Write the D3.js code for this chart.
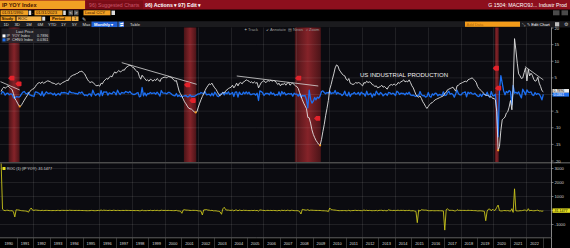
<!DOCTYPE html>
<html>
<head>
<meta charset="utf-8">
<script src="https://cdn.jsdelivr.net/npm/d3@7"></script>
<style>
  html, body { margin: 0; padding: 0; background: #000; overflow: hidden; }
  svg { display: block; font-family: "Liberation Sans", Arial, sans-serif; }
</style>
</head>
<body>
<script>
// monthly series, Jan 1990 .. Jan 2023
const ipYoy = [
  0.9, 1.8, 2.2, 1.9, 2.2, 2.6, 2.2, 1.8, 1.5, 0.3, -1.2, -1.8,
  -2.6, -3.4, -3.6, -3.1, -2.4, -1.7, -1.0, -0.4, 0.3, 0.9, 1.3, 1.6,
  1.8, 2.4, 3.0, 3.4, 3.6, 3.3, 3.8, 3.4, 3.6, 3.9, 4.1, 4.0,
  3.8, 3.5, 3.4, 3.3, 3.0, 3.2, 3.4, 3.0, 3.3, 3.6, 3.8, 4.0,
  4.3, 4.2, 5.0, 5.4, 5.7, 5.9, 6.0, 6.3, 6.4, 6.8, 6.9, 7.0,
  6.6, 6.2, 5.4, 4.6, 4.0, 3.6, 3.8, 3.7, 3.2, 2.8, 2.6, 2.8,
  2.5, 3.4, 3.2, 4.0, 4.4, 4.8, 4.6, 5.2, 5.5, 5.3, 6.2, 6.8,
  6.4, 6.9, 7.2, 6.8, 7.0, 7.4, 7.3, 8.0, 8.3, 8.6, 8.8, 8.6,
  8.2, 8.0, 7.4, 7.0, 6.8, 5.4, 4.6, 5.8, 5.2, 4.8, 4.2, 4.4,
  4.0, 4.6, 4.4, 4.0, 4.5, 4.2, 4.8, 4.4, 3.9, 4.8, 5.0, 5.2,
  5.2, 5.0, 5.4, 5.3, 5.2, 4.9, 4.4, 4.0, 4.2, 2.6, 1.0, 0.2,
  -0.5, -1.4, -2.2, -2.8, -3.5, -4.1, -4.3, -4.4, -4.8, -5.2, -5.4, -5.2,
  -3.8, -2.6, -1.6, -0.6, 0.2, 1.2, 2.0, 2.6, 3.2, 3.0, 3.4, 2.6,
  2.0, 1.5, 0.8, 0.0, -0.4, 0.2, 0.6, 0.4, 1.1, 1.4, 1.8, 2.0,
  2.2, 2.8, 2.0, 2.6, 3.4, 2.6, 3.4, 3.6, 3.2, 3.8, 4.0, 4.4,
  4.2, 4.0, 3.6, 3.8, 3.4, 3.8, 3.4, 3.6, 2.0, 2.8, 3.6, 3.9,
  4.2, 3.6, 3.8, 4.2, 4.0, 4.3, 4.0, 4.2, 4.1, 3.6, 3.0, 3.4,
  2.6, 3.2, 3.0, 3.4, 2.8, 3.4, 3.6, 2.8, 3.2, 3.4, 3.0, 2.6,
  2.4, 1.8, 0.6, -0.4, -1.6, -2.6, -3.4, -4.2, -6.9, -7.0, -8.6, -10.6,
  -12.0, -13.0, -13.8, -14.4, -15.0, -15.3, -13.6, -11.2, -9.0, -6.4, -4.2, -1.8,
  1.6, 3.0, 4.6, 6.2, 8.0, 8.9, 8.6, 7.4, 6.8, 6.2, 5.8, 5.6,
  4.6, 4.2, 4.8, 3.4, 3.2, 3.0, 3.2, 3.6, 3.4, 3.6, 3.4, 3.0,
  2.6, 3.6, 3.4, 4.0, 3.6, 3.8, 3.6, 3.0, 2.8, 2.4, 2.6, 2.0,
  2.2, 2.4, 2.8, 2.2, 2.4, 2.0, 1.6, 2.4, 2.8, 3.0, 2.8, 3.2,
  2.8, 3.0, 3.6, 3.4, 3.8, 4.0, 4.4, 3.8, 4.0, 3.8, 4.4, 3.6,
  2.6, 2.0, 1.0, 0.0, -0.6, -0.8, -0.4, -1.2, -2.2, -2.8, -3.6, -4.2,
  -3.6, -3.0, -2.6, -2.4, -2.0, -1.6, -1.4, -1.2, -1.0, -0.8, -0.6, -0.4,
  0.4, 0.6, 1.4, 1.6, 1.8, 2.0, 2.2, 1.6, 1.0, 2.6, 2.8, 3.2,
  3.4, 3.6, 3.8, 4.0, 3.8, 4.4, 4.6, 4.8, 5.0, 4.6, 4.2, 3.6,
  2.4, 1.8, 1.4, 1.0, 0.6, 0.2, -0.3, -0.2, -0.4, -0.8, -0.6, -1.2,
  -1.2, -1.6, -5.2, -16.8, -15.6, -10.8, -7.6, -7.2, -6.8, -5.6, -5.2, -3.8,
  -1.8, -4.6, 1.6, 16.8, 13.4, 9.4, 6.2, 5.6, 4.8, 5.0, 6.6, 8.0,
  4.1, 7.6, 5.6, 6.4, 5.8, 4.6, 4.0, 4.2, 5.2, 3.4, 2.4, 1.15,
  0.79
];

const ipChng = [
  0.1, 0.9, 0.6, -0.2, 0.3, 0.4, -0.1, 0.2, 0.1, -0.9, -1.2, -0.6,
  -0.7, -0.8, -0.5, 0.2, 0.7, 0.9, 0.3, 0.2, 0.6, -0.1, -0.3, -0.4,
  -0.6, 0.8, 0.7, 0.5, 0.3, -0.3, 0.9, -0.5, 0.2, 0.8, 0.4, 0.3,
  0.5, 0.3, -0.1, 0.4, -0.3, 0.1, 0.3, -0.2, 0.6, 0.5, 0.6, 0.5,
  0.4, 0.1, 1.0, 0.6, 0.5, 0.5, 0.3, 0.3, 0.1, 0.7, 0.4, 0.8,
  0.2, -0.3, -0.1, -0.4, 0.1, 0.2, -0.5, 1.3, 0.3, -0.3, 0.1, 0.3,
  -0.5, 1.2, -0.3, 0.8, 0.7, 0.8, -0.2, 0.5, 0.3, 0.2, 0.8, 0.6,
  -0.1, 1.3, 0.5, 0.0, 0.6, 0.5, 0.4, 0.9, 0.7, 0.5, 0.9, 0.4,
  0.1, 0.0, 0.1, 0.4, 0.6, -0.7, -0.5, 2.1, -0.4, 0.5, -0.4, 0.3,
  0.2, 0.6, 0.3, 0.4, 0.5, 0.1, 0.7, 0.2, -0.5, 1.2, 0.5, 0.4,
  0.4, 0.2, 0.6, 0.6, 0.3, -0.1, -0.3, -0.4, 0.3, -0.6, -0.2, -0.6,
  -0.6, -0.5, -0.4, -0.3, -0.7, -0.6, -0.1, -0.6, -0.5, -0.6, -0.3, -0.1,
  0.2, 0.2, 0.6, 0.4, 0.3, 0.8, -0.1, 0.0, 0.1, -0.4, 0.4, -0.4,
  0.7, 0.2, -0.5, -0.6, 0.1, 0.1, 0.6, -0.1, 0.6, 0.2, 0.8, 0.0,
  0.3, 0.6, -0.6, 0.7, 0.8, -0.8, 0.7, 0.1, 0.0, 0.7, 0.2, 0.8,
  0.2, 0.7, 0.0, 0.0, 0.2, 0.2, -0.2, 0.4, -1.8, 1.1, 0.9, 0.5,
  -0.3, 0.3, 0.3, 0.3, -0.1, 0.7, 0.1, 0.4, -0.3, 0.0, -0.2, 0.8,
  -0.4, 0.9, 0.2, 0.6, -0.1, 0.1, 0.3, 0.1, 0.3, -0.5, 0.4, 0.1,
  0.1, -0.5, 0.2, -0.8, -0.3, -0.4, -0.3, -1.5, -4.0, 1.3, -1.4, -2.6,
  -2.0, -0.9, -1.6, -0.8, -1.1, -0.4, 0.9, 1.1, 0.6, 0.2, 0.6, 0.4,
  1.0, 0.2, 0.5, 0.4, 1.2, 0.1, 0.6, 0.2, 0.2, -0.3, 0.1, 1.0,
  -0.2, -0.4, 0.7, -0.6, 0.2, 0.2, 0.6, 0.1, 0.2, 0.6, -0.2, 0.7,
  0.3, 0.2, -0.5, 1.0, -0.1, 0.1, 0.4, -0.8, 0.2, -0.3, 1.0, 0.3,
  -0.1, 0.6, 0.3, -0.4, 0.0, 0.3, -0.3, 0.6, 0.5, 0.1, 0.4, 0.2,
  -0.3, 1.0, 0.7, 0.0, 0.4, 0.3, 0.3, -0.1, 0.5, 0.1, 0.7, -0.1,
  -0.3, -0.2, -0.4, -0.6, -0.3, -0.3, 0.9, -0.1, -0.4, -0.3, -0.8, -0.6,
  0.6, -0.5, -0.8, 0.2, -0.2, 0.4, 0.3, -0.4, 0.0, -0.1, -0.3, 0.8,
  -0.3, -0.2, 0.4, 1.0, 0.1, 0.3, 0.0, -0.8, 0.2, 1.3, 0.2, -0.1,
  -0.1, 0.5, 0.6, 0.8, -0.7, 0.7, 0.3, 0.6, 0.2, 0.1, 0.4, -0.1,
  -0.5, -0.6, 0.1, -0.6, 0.2, 0.0, -0.2, 0.7, -0.4, -0.8, 0.9, -0.3,
  -0.4, 0.1, -4.5, -12.7, 1.4, 5.7, 3.5, 1.1, -0.1, 0.9, 0.5, 1.2,
  0.8, -3.1, 2.7, 0.4, 0.7, 0.3, 0.8, -0.2, -1.0, 1.6, 0.8, -0.1,
  1.4, 0.7, 0.6, 0.8, -0.1, -0.3, 0.6, 0.0, 0.3, 0.1, -0.6, -1.6,
  0.0361
];

const rocYoy = [
  3400, 95, 20, -15, 15, 18, -15, -18, -17, -80, -460, 50,
  44, 30, 6, -14, -22, -30, -40, -60, -120, 60, 180, 25,
  12, 33, 25, 13, 6, -8, 15, -10, 6, 8, 5, -2,
  -5, -8, -3, -3, -9, 7, 6, -12, 10, 9, 6, 5,
  8, -2, 19, 8, 6, 4, 2, 5, 2, 6, 1, 1,
  -6, -6, -13, -15, -13, -10, 6, -3, -14, -13, -7, 8,
  -11, 36, -6, 25, 10, 9, -4, 13, 6, -4, 17, 10,
  -6, 8, 4, -6, 3, 6, -1, 10, 4, 4, 2, -2,
  -5, -2, -8, -5, -3, -21, -15, 26, -10, -8, -13, 5,
  -9, 15, -4, -9, 13, -7, 14, -8, -11, 23, 4, 4,
  8, -4, 9, -2, -3, -7, -12, -9, 7, -24, -35, -45,
  -200, 40, 57, 27, 25, 17, 5, 2, 9, 8, 4, -4,
  -27, -32, -38, -320, 40, 50, 67, 30, 23, -6, 13, -24,
  -23, -25, -47, -60, -100, -270, 120, 230, 60, 27, 29, 11,
  10, 27, -29, 30, 31, -24, 31, 6, -11, 19, 5, 10,
  -5, -5, -10, 6, -11, 12, -11, 6, -44, 40, 29, 8,
  8, -14, 6, 11, -5, 8, -7, 5, -2, -12, -17, 13,
  -24, 23, -6, 13, -18, 21, 6, -22, 14, 6, -12, -13,
  -8, -25, -67, -250, 80, 60, 31, 24, 64, 1, 23, 23,
  13, 8, 6, 4, 4, 2, -11, -18, -20, -29, -34, -80,
  180, 60, 53, 35, 29, 11, -3, -14, -8, -9, -6, -3,
  -18, -9, 14, -29, -6, -6, 7, 13, -6, 6, -6, -12,
  -13, 38, -6, 18, -10, 6, -5, -17, -7, -14, 8, -23,
  10, 9, 17, -21, 9, -17, -20, 50, 17, 7, -7, 14,
  -13, 7, 20, -6, 12, 5, 10, -14, 5, -5, 16, -18,
  -22, -14, -42, -60, -870, 33, -50, 60, 40, 27, 29, 17,
  -14, -17, -13, -8, -17, -20, -13, -14, -17, -20, -25, -33,
  -1400, 50, 133, 14, 12, 11, 10, -27, -37, 60, 8, 14,
  6, 6, 6, 5, -5, 16, 5, 4, 4, -8, -9, -14,
  -33, -25, -22, -29, -40, -67, -730, -33, 100, 100, -25, 100,
  0, 33, 225, 390, -7, -31, -30, -5, -6, -18, -7, -27,
  -47, 130, -135, 1550, -20, -30, -31, -13, -14, 4, 32, 21,
  -49, 130, -26, 14, -9, -20, -13, 5, 24, -35, -29, -52,
  -31.1477
];

const recessionStart = ['1990-07-01', '2001-03-01', '2007-12-01', '2020-02-01'];
const recessionEnd = ['1991-03-01', '2001-12-01', '2009-07-01', '2020-05-01'];

// hand drawn trend lines, [decimal year, value]
const trendFrom = [[1990.0, 3.86], [1997.38, 9.58], [2004.38, 5.57], [2021.92, 8.4]];
const trendTo = [[1991.17, 1.36], [2001.94, 3.07], [2009.34, 2.56], [2023.04, 4.4]];

// red event flags and orange trough dots
const flagYears = [1990.47, 1990.9, 2001.17, 2001.5, 2007.93, 2009.08, 2019.96, 2020.1];
const flagValues = [4.9, 3.2, 2.9, -1.8, 4.9, -7.2, 7.9, 1.9];
const troughYears = [1991.17, 2001.88, 2009.45, 2020.29];
const troughValues = [-3.6, -5.4, -15.3, -16.8];

const years = [1990, 1991, 1992, 1993, 1994, 1995, 1996, 1997, 1998, 1999, 2000, 2001, 2002,
  2003, 2004, 2005, 2006, 2007, 2008, 2009, 2010, 2011, 2012, 2013, 2014, 2015, 2016,
  2017, 2018, 2019, 2020, 2021, 2022];
const upperTicks = [20, 15, 10, 5, 0, -5, -10, -15, -20];
const lowerTicks = [3000, 2000, 1000, 0, -1000];

const W = 570, H = 248;
const plotRight = 551;
const top0 = 27.5, top1 = 162, bot0 = 163.5, bot1 = 237.5;

const monthDate = i => new Date(Date.UTC(1990, i, 15));
const yearDate = y => {
  const yr = Math.floor(y);
  const a = Date.UTC(yr, 0, 1), b = Date.UTC(yr + 1, 0, 1);
  return new Date(a + (y - yr) * (b - a));
};

const x = d3.scaleUtc()
  .domain([new Date(Date.UTC(1990, 0, 1)), new Date(Date.UTC(2023, 0, 1))])
  .range([0.5, 542.7]);
const yTop = d3.scaleLinear().domain([-20, 20]).range([161, 28]);
const yBot = d3.scaleLinear().domain([-1000, 3000]).range([224.5, 168.5]);

const svg = d3.select('body').append('svg')
  .attr('width', W)
  .attr('height', H);

svg.append('rect').attr('width', W).attr('height', H).attr('fill', '#000');

const defs = svg.append('defs');
const grad = defs.append('linearGradient').attr('id', 'recess');
grad.append('stop').attr('offset', '0%').attr('stop-color', '#4a1418');
grad.append('stop').attr('offset', '50%').attr('stop-color', '#852329');
grad.append('stop').attr('offset', '100%').attr('stop-color', '#4a1418');
defs.append('clipPath').attr('id', 'clipTop').append('rect')
  .attr('x', 0).attr('y', top0).attr('width', plotRight).attr('height', top1 - top0);
defs.append('clipPath').attr('id', 'clipBot').append('rect')
  .attr('x', 0).attr('y', bot0).attr('width', plotRight).attr('height', bot1 - bot0);

function txt(g, px, py, s, size, fill, opts = {}) {
  const t = g.append('text')
    .attr('x', px).attr('y', py)
    .attr('font-size', size)
    .attr('fill', fill)
    .text(s);
  if (opts.anchor) t.attr('text-anchor', opts.anchor);
  if (opts.bold) t.attr('font-weight', 'bold');
  if (opts.len) t.attr('textLength', opts.len).attr('lengthAdjust', 'spacingAndGlyphs');
  if (opts.family) t.attr('font-family', opts.family);
  return t;
}
function box(g, px, py, w, h, fill) {
  return g.append('rect').attr('x', px).attr('y', py).attr('width', w).attr('height', h).attr('fill', fill);
}

// ---------- header rows ----------
const hdr = svg.append('g');
box(hdr, 0, 0, W, 9.5, '#8d0f1d');
box(hdr, 0, 0.5, 85, 8.5, '#f2a023');
txt(hdr, 2, 7, 'IP   YOY Index', 5.6, '#4a1500', { bold: true });
box(hdr, 86, 0.5, 57, 8.5, '#7a0c17');
txt(hdr, 89, 7, '96) Suggested Charts', 5.2, '#c8566a');
txt(hdr, 145, 7, '96) Actions ▾', 5.2, '#fff', { bold: true });
txt(hdr, 178, 7, '97) Edit ▾', 5.2, '#fff', { bold: true });
txt(hdr, 567, 7, 'G 1504: MACRO9J... Industr Prod', 5.2, '#fff', { anchor: 'end' });

const orange = '#f2a023', lightOrange = '#f6b448', dark = '#2a1000';
box(hdr, 0.5, 10.3, 27.5, 5, orange);
txt(hdr, 2, 14.3, '01/31/1990', 4.2, dark);
box(hdr, 28.6, 10.6, 2.6, 4.4, '#ddd');
txt(hdr, 31.8, 14.3, '-', 4.2, orange);
box(hdr, 34.5, 10.3, 28, 5, orange);
txt(hdr, 36, 14.3, '01/31/2023', 4.2, dark);
box(hdr, 63.2, 10.6, 2.6, 4.4, '#ddd');
box(hdr, 68.5, 10.3, 4.5, 5, '#5a5a5a');
txt(hdr, 69.6, 14.3, '<', 4.2, '#fff');
box(hdr, 74, 10.3, 4.5, 5, '#5a5a5a');
txt(hdr, 75.1, 14.3, '>', 4.2, '#fff');
box(hdr, 83.5, 10.3, 27, 5, orange);
txt(hdr, 85, 14.3, 'Local CCY', 4.2, dark);
box(hdr, 111.5, 10.6, 3.5, 4.4, '#ddd');
box(hdr, 553, 10.3, 6.5, 5, '#4a4a4a');
box(hdr, 561.5, 10.3, 6.5, 5, '#4a4a4a');

box(hdr, 0.5, 16.4, 15, 4.6, orange);
txt(hdr, 1.5, 20.2, 'Study', 4.2, dark, { bold: true });
box(hdr, 16.5, 16.4, 25, 4.6, lightOrange);
txt(hdr, 18, 20.2, 'ROC', 4.2, dark);
box(hdr, 42.2, 16.7, 3, 4, '#ddd');
box(hdr, 50, 16.4, 21.5, 4.6, orange);
txt(hdr, 52, 20.2, 'Period', 4.2, dark, { bold: true });
box(hdr, 72, 16.4, 6.5, 4.6, lightOrange);
txt(hdr, 74, 20.2, '1', 4.2, dark);
txt(hdr, 81.5, 20.6, '✎', 5, '#ccc');

box(hdr, 0, 21.2, W, 6.3, '#1b1b1e');
const ranges = ['1D', '3D', '1M', '6M', 'YTD', '1Y', '5Y', 'Max'];
const rangeX = [3.5, 14.5, 26, 37.5, 48, 61, 72, 82.5];
ranges.forEach((r, i) => txt(hdr, rangeX[i], 25.8, r, 4.2, '#ddd'));
box(hdr, 91.5, 21.6, 26, 5.5, '#1f5fd3');
txt(hdr, 94, 25.8, 'Monthly ▾', 4.2, '#fff', { bold: true });
box(hdr, 118.5, 21.6, 5.5, 5.5, '#3470d8');
txt(hdr, 119.6, 25.8, '⇄', 3.8, '#fff');
txt(hdr, 130, 25.8, 'Table', 4.2, '#ddd');
box(hdr, 465, 21.6, 55, 5.2, '#f39c1a');
txt(hdr, 466.5, 25.6, 'Add Data', 4, '#b06a10');
txt(hdr, 521.5, 25.8, '⤡', 4.2, '#ccc');
txt(hdr, 527, 25.8, '✎ Edit Chart', 4.2, '#fff');
box(hdr, 555, 22.2, 4.2, 4.2, '#bbb');
txt(hdr, 563.5, 26, '⚙', 5, '#ccc');

// ---------- panels ----------
box(svg, 0, top0, plotRight, top1 - top0, '#0b0b10');
box(svg, 0, bot0, plotRight, bot1 - bot0, '#0b0b10');
box(svg, 0, top1, W, bot0 - top1, '#4c4c4c');

// recession shading, upper panel only
svg.append('g').selectAll('rect')
  .data(recessionStart)
  .join('rect')
  .attr('x', (d, i) => x(new Date(d)))
  .attr('width', (d, i) => x(new Date(recessionEnd[i])) - x(new Date(d)))
  .attr('y', top0)
  .attr('height', top1 - top0)
  .attr('fill', 'url(#recess)');

// grid
const evenYears = years.filter(y => y % 2 === 0 && y > 1990);
const grid = svg.append('g').attr('stroke', 'rgba(255,255,255,0.15)').attr('stroke-width', 0.6);
evenYears.forEach(y => {
  const gx = Math.round(x(new Date(Date.UTC(y, 0, 1)))) + 0.5;
  grid.append('line').attr('x1', gx).attr('x2', gx).attr('y1', top0).attr('y2', top1);
  grid.append('line').attr('x1', gx).attr('x2', gx).attr('y1', bot0).attr('y2', bot1);
});
upperTicks.filter(v => Math.abs(v) < 20).forEach(v => {
  grid.append('line').attr('x1', 0).attr('x2', plotRight).attr('y1', yTop(v)).attr('y2', yTop(v));
});
lowerTicks.forEach(v => {
  grid.append('line').attr('x1', 0).attr('x2', plotRight).attr('y1', yBot(v)).attr('y2', yBot(v));
});

// ---------- upper series ----------
const upper = svg.append('g').attr('clip-path', 'url(#clipTop)');
const lineTop = d3.line().x((d, i) => x(monthDate(i))).y(d => yTop(d));

upper.append('path')
  .datum(ipChng)
  .attr('d', lineTop)
  .attr('fill', 'none')
  .attr('stroke', '#1d6ff0')
  .attr('stroke-width', 1.3)
  .attr('stroke-linejoin', 'round');

upper.append('path')
  .datum(ipYoy)
  .attr('d', lineTop)
  .attr('fill', 'none')
  .attr('stroke', '#e4e4e4')
  .attr('stroke-width', 0.9)
  .attr('stroke-linejoin', 'round');

upper.append('g').selectAll('line')
  .data(trendFrom)
  .join('line')
  .attr('x1', d => x(yearDate(d[0])))
  .attr('y1', d => yTop(d[1]))
  .attr('x2', (d, i) => x(yearDate(trendTo[i][0])))
  .attr('y2', (d, i) => yTop(trendTo[i][1]))
  .attr('stroke', '#d8d8d8')
  .attr('stroke-width', 0.8);

upper.append('g').selectAll('circle')
  .data(troughYears)
  .join('circle')
  .attr('cx', d => x(yearDate(d)))
  .attr('cy', (d, i) => yTop(troughValues[i]))
  .attr('r', 1.1)
  .attr('fill', '#f39a20');

upper.append('g').selectAll('path')
  .data(flagYears)
  .join('path')
  .attr('transform', (d, i) => `translate(${x(yearDate(d))},${yTop(flagValues[i])})`)
  .attr('d', 'M0,0L2.2,-2.4L5.6,-2.4Q6.2,-2.4 6.2,-1.6L6.2,1.6Q6.2,2.4 5.6,2.4L2.2,2.4Z')
  .attr('fill', '#e2222b');

// ---------- lower series ----------
const lower = svg.append('g').attr('clip-path', 'url(#clipBot)');
lower.append('path')
  .datum(rocYoy)
  .attr('d', d3.line().x((d, i) => x(monthDate(i))).y(d => yBot(d)))
  .attr('fill', 'none')
  .attr('stroke', '#c9c51c')
  .attr('stroke-width', 0.9)
  .attr('stroke-linejoin', 'round');

// ---------- overlays ----------
const tools = svg.append('g');
txt(tools, 244, 31.2, '✦ Track', 4, '#9a9a9a');
txt(tools, 266, 31.2, '↙ Annotate', 4, '#9a9a9a');
txt(tools, 288, 31.2, '▤ News', 4, '#9a9a9a');
txt(tools, 306, 31.2, '⌕ Zoom', 4, '#9a9a9a');

txt(svg, 360, 76.5, 'US INDUSTRIAL PRODUCTION', 6.2, '#f0f0f0', { len: 88 });

const leg = svg.append('g');
box(leg, 1.5, 28.5, 48, 14.5, 'rgba(38,38,44,0.85)');
txt(leg, 16, 32.8, 'Last Price', 3.9, '#ddd');
box(leg, 2.5, 34.4, 3, 3, '#fff');
txt(leg, 6.5, 37.2, 'IP', 3.7, '#ddd');
txt(leg, 12, 37.2, 'YOY Index', 3.7, '#ddd');
txt(leg, 37, 37.2, '0.7896', 3.7, '#ddd');
box(leg, 2.5, 38.4, 3, 3, '#1d6ff0');
txt(leg, 6.5, 41.2, 'IP', 3.7, '#ddd');
txt(leg, 12, 41.2, 'CHNG Index', 3.7, '#ddd');
txt(leg, 37, 41.2, '0.0361', 3.7, '#ddd');

box(leg, 2.5, 167, 3, 3, '#e6e020');
txt(leg, 7, 169.8, 'ROC (1) (IP YOY) -31.1477', 3.7, '#ddd');

// ---------- right axes ----------
const ax = svg.append('g');
ax.append('line').attr('x1', plotRight + 0.5).attr('x2', plotRight + 0.5)
  .attr('y1', top0).attr('y2', bot1).attr('stroke', '#bdbdbd').attr('stroke-width', 0.7);
upperTicks.forEach(v => {
  ax.append('line').attr('x1', plotRight + 0.5).attr('x2', plotRight + 2.5)
    .attr('y1', yTop(v)).attr('y2', yTop(v)).attr('stroke', '#bdbdbd').attr('stroke-width', 0.6);
  if (v !== 0) txt(ax, plotRight + 3.5, yTop(v) + 1.5, String(v), 4.2, '#cfcfcf');
});
lowerTicks.forEach(v => {
  ax.append('line').attr('x1', plotRight + 0.5).attr('x2', plotRight + 2.5)
    .attr('y1', yBot(v)).attr('y2', yBot(v)).attr('stroke', '#bdbdbd').attr('stroke-width', 0.6);
  if (v !== 0) txt(ax, plotRight + 3.5, yBot(v) + 1.5, String(v), 4.2, '#cfcfcf');
});

box(ax, 552.5, 89, 16.5, 3.8, '#ececec');
txt(ax, 553.5, 92, '0.7896', 3.5, '#000');
box(ax, 552.5, 92.8, 16.5, 3.8, '#1d6ff0');
txt(ax, 553.5, 95.8, '0.0361', 3.5, '#fff');
box(ax, 552.5, 208.4, 17.5, 4.4, '#e6e020');
txt(ax, 553.2, 211.8, '-31.1477', 3.6, '#000');

// ---------- bottom year axis ----------
const xa = svg.append('g');
box(xa, 0, bot1, W, H - bot1, '#000');
xa.append('line').attr('x1', 0).attr('x2', plotRight + 0.5).attr('y1', bot1 + 0.3).attr('y2', bot1 + 0.3)
  .attr('stroke', '#8a8a8a').attr('stroke-width', 0.7);
years.forEach(y => {
  const a = x(new Date(Date.UTC(y, 0, 1)));
  const b = x(new Date(Date.UTC(y + 1, 0, 1)));
  xa.append('line').attr('x1', Math.round(b) + 0.5).attr('x2', Math.round(b) + 0.5)
    .attr('y1', bot1).attr('y2', H).attr('stroke', '#555').attr('stroke-width', 0.6);
  txt(xa, (a + b) / 2, 244.5, String(y), 3.9, '#dedede', { anchor: 'middle' });
});
xa.append('line').attr('x1', plotRight + 0.5).attr('x2', plotRight + 0.5)
  .attr('y1', bot1).attr('y2', H).attr('stroke', '#bdbdbd').attr('stroke-width', 0.7);
</script>
</body>
</html>
